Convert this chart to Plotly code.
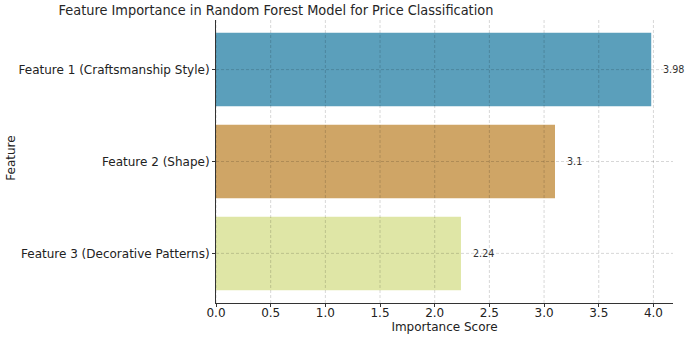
import plotly.graph_objects as go

features = ["Feature 1 (Craftsmanship Style)", "Feature 2 (Shape)", "Feature 3 (Decorative Patterns)"]
importance = [3.98, 3.1, 2.24]
bar_colors = ["#5b9fbb", "#cfa566", "#dfe6a6"]
x_ticks = [0.0, 0.5, 1.0, 1.5, 2.0, 2.5, 3.0, 3.5, 4.0]
x_tick_labels = ["0.0", "0.5", "1.0", "1.5", "2.0", "2.5", "3.0", "3.5", "4.0"]

FONT = "DejaVu Sans"
n = len(features)
xmax = max(importance) * 1.05
GRID = dict(color="rgba(0,0,0,0.2)", width=0.8, dash="3px,2px")

fig = go.Figure()
fig.add_trace(go.Bar(
    x=importance, y=list(range(n)), orientation="h",
    marker=dict(color=bar_colors, line=dict(width=0)),
    width=0.8, hoverinfo="skip",
))

shapes = []
for t in x_ticks:
    shapes.append(dict(type="line", xref="x", yref="paper", x0=t, x1=t, y0=0, y1=1,
                       line=GRID, layer="above"))
for i in range(n):
    shapes.append(dict(type="line", xref="paper", yref="y", x0=0, x1=1, y0=i, y1=i,
                       line=GRID, layer="above"))

annotations = []
for i, v in enumerate(importance):
    annotations.append(dict(x=v + 0.09, y=i, xref="x", yref="y", text=f"{v:g}",
                            showarrow=False, xanchor="left", yanchor="middle",
                            font=dict(family=FONT, size=9.6, color="#333333")))
annotations.append(dict(x=-205/457, y=0.51, xref="paper", yref="paper", text="Feature", textangle=-90,
                        showarrow=False, xanchor="center", yanchor="middle",
                        font=dict(family=FONT, size=12, color="#222222")))

fig.update_layout(
    width=685, height=337,
    margin=dict(l=216, r=12, t=20, b=34, autoexpand=False),
    plot_bgcolor="white", paper_bgcolor="white",
    showlegend=False,
    title=dict(text="Feature Importance in Random Forest Model for Price Classification",
               x=276/685, xanchor="center", xref="container", y=1-10/337, yanchor="middle", yref="container",
               font=dict(family="DejaVu Sans Condensed", size=14.4, color="#262626")),
    shapes=shapes,
    annotations=annotations,
)

fig.update_xaxes(
    range=[0, xmax], tickvals=x_ticks, ticktext=x_tick_labels,
    showgrid=False, zeroline=False,
    showline=True, linecolor="#333333", linewidth=1,
    ticks="outside", ticklen=3, tickcolor="#333333",
    ticklabelstandoff=-4,
    tickfont=dict(family=FONT, size=12, color="#222222"),
    title=dict(text="Importance Score", font=dict(family=FONT, size=12, color="#222222"), standoff=3),
    automargin=False,
)
fig.update_yaxes(
    range=[n - 1 + 0.54, -0.54], tickvals=list(range(n)), ticktext=features,
    showgrid=False, zeroline=False,
    showline=True, linecolor="#333333", linewidth=1,
    ticks="outside", ticklen=3, tickcolor="#333333",
    tickfont=dict(family=FONT, size=12, color="#222222"),
    automargin=False,
)

fig.write_html("out.html", config={"displayModeBar": False},
               post_script="document.body.style.margin='0px';")
